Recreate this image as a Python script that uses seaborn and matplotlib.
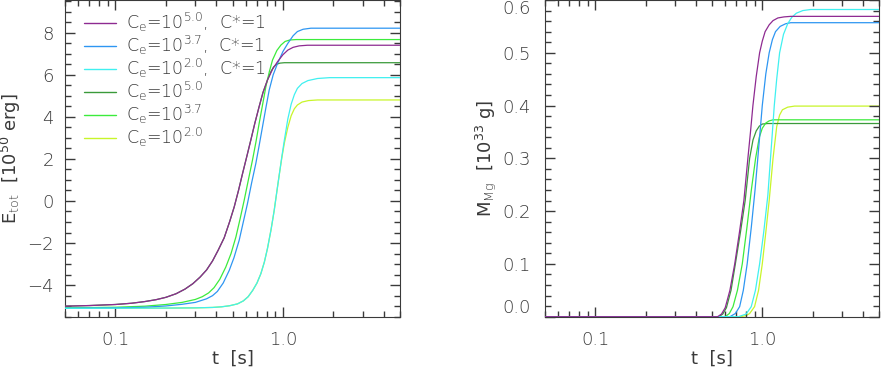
import numpy as np
import pandas as pd
import matplotlib
matplotlib.use("Agg")
import matplotlib.pyplot as plt
import matplotlib.ticker as mticker
import seaborn as sns

# Series labels and colours (legend order)
labels = [r"C$_{\rm e}$=10$^{5.0}$,  C*=1",
          r"C$_{\rm e}$=10$^{3.7}$,  C*=1",
          r"C$_{\rm e}$=10$^{2.0}$,  C*=1",
          r"C$_{\rm e}$=10$^{5.0}$",
          r"C$_{\rm e}$=10$^{3.7}$",
          r"C$_{\rm e}$=10$^{2.0}$"]
colors = ["#8E2A91", "#2E96F2", "#40F0F0", "#3A9A3A", "#3CEB3C", "#C8F52A"]
zorders = [6, 4, 5, 3, 3, 2]

# Left panel: total energy [1e50 erg] vs time [s]
t_e_purple = [0.05, 0.07, 0.1, 0.125, 0.15, 0.175, 0.2, 0.23, 0.26, 0.29, 0.32, 0.35, 0.38,
              0.41, 0.446, 0.48, 0.512, 0.543, 0.574, 0.608, 0.643, 0.68, 0.721, 0.76, 0.809,
              0.87, 0.929, 1.0, 1.07, 1.15, 1.25, 1.4, 5.0]
e_purple = [-5.0, -4.97, -4.92, -4.86, -4.78, -4.69, -4.58, -4.41, -4.19, -3.93, -3.62, -3.28, -2.85,
            -2.35, -1.75, -1.0, -0.28, 0.5, 1.30, 2.1, 2.89, 3.7, 4.48, 5.15, 5.75,
            6.28, 6.62, 6.95, 7.17, 7.3, 7.37, 7.4, 7.4]

t_e_blue = [0.05, 0.1, 0.15, 0.2, 0.25, 0.3, 0.35, 0.38, 0.406, 0.44, 0.478, 0.51, 0.548, 0.58,
            0.614, 0.65, 0.689, 0.72, 0.755, 0.79, 0.828, 0.875, 0.929, 1.0, 1.07, 1.15, 1.22,
            1.32, 1.47, 5.0]
e_blue = [-5.1, -5.08, -5.05, -4.99, -4.91, -4.82, -4.65, -4.5, -4.3, -3.9, -3.3, -2.7, -1.87, -1.0,
          -0.13, 0.85, 1.78, 2.6, 3.52, 4.4, 5.27, 6.0, 6.54, 7.1, 7.49, 7.85, 8.05,
          8.16, 8.21, 8.21]

t_e_cyan = [0.05, 0.2, 0.3, 0.38, 0.43, 0.48, 0.536, 0.58, 0.62, 0.66, 0.7, 0.738, 0.775, 0.809,
            0.85, 0.887, 0.92, 0.951, 0.985, 1.02, 1.07, 1.12, 1.17, 1.22, 1.3, 1.41, 1.61, 1.9, 5.0]
e_cyan = [-5.1, -5.09, -5.08, -5.06, -5.03, -4.98, -4.89, -4.75, -4.55, -4.25, -3.9, -3.46, -2.9, -2.25,
          -1.35, -0.45, 0.45, 1.25, 2.1, 2.89, 3.9, 4.6, 5.05, 5.35, 5.58, 5.72, 5.82, 5.86, 5.86]

t_e_dkgreen = [0.05, 0.07, 0.1, 0.125, 0.15, 0.175, 0.2, 0.23, 0.26, 0.29, 0.32, 0.35, 0.38,
               0.41, 0.446, 0.48, 0.512, 0.543, 0.574, 0.608, 0.643, 0.68, 0.721, 0.76, 0.809,
               0.847, 0.88, 0.92, 0.96, 1.02, 5.0]
e_dkgreen = [-5.0, -4.97, -4.92, -4.86, -4.78, -4.69, -4.58, -4.41, -4.19, -3.93, -3.62, -3.28, -2.85,
             -2.35, -1.75, -1.0, -0.28, 0.5, 1.30, 2.1, 2.89, 3.7, 4.48, 5.15, 5.75,
             6.14, 6.37, 6.5, 6.55, 6.57, 6.57]

t_e_green = [0.05, 0.1, 0.15, 0.2, 0.25, 0.3, 0.33, 0.36, 0.388, 0.42, 0.456, 0.49, 0.524, 0.555,
             0.587, 0.62, 0.658, 0.69, 0.721, 0.755, 0.791, 0.83, 0.867, 0.92, 0.973, 1.03, 1.1,
             1.2, 5.0]
e_green = [-5.08, -5.05, -5.0, -4.92, -4.82, -4.68, -4.55, -4.37, -4.12, -3.72, -3.14, -2.5, -1.71, -0.85,
           0.03, 0.95, 1.94, 2.8, 3.68, 4.55, 5.43, 6.15, 6.70, 7.15, 7.41, 7.58, 7.65,
           7.67, 7.67]

t_e_yellow = [0.05, 0.2, 0.3, 0.38, 0.43, 0.48, 0.536, 0.58, 0.62, 0.66, 0.7, 0.738, 0.775, 0.809,
              0.85, 0.887, 0.92, 0.951, 0.985, 1.02, 1.07, 1.12, 1.17, 1.22, 1.3, 1.42, 1.61, 5.0]
e_yellow = [-5.1, -5.09, -5.08, -5.06, -5.03, -4.98, -4.89, -4.75, -4.55, -4.25, -3.9, -3.46, -2.9, -2.25,
            -1.35, -0.45, 0.45, 1.25, 2.05, 2.75, 3.5, 4.05, 4.38, 4.56, 4.7, 4.77, 4.8, 4.8]

# Right panel: Mg mass [1e33 g] vs time [s]
t_m_purple = [0.05, 0.54, 0.57, 0.6, 0.64, 0.684, 0.73, 0.776, 0.82, 0.85, 0.879, 0.92, 0.964,
              1.0, 1.04, 1.1, 1.16, 1.24, 1.35, 1.48, 5.0]
m_purple = [0.0, 0.0, 0.005, 0.017, 0.05, 0.1, 0.16, 0.22, 0.3, 0.35, 0.4, 0.455, 0.5,
            0.522, 0.54, 0.553, 0.561, 0.566, 0.568, 0.569, 0.569]

t_m_blue = [0.05, 0.64, 0.69, 0.732, 0.77, 0.812, 0.86, 0.905, 0.94, 0.97, 1.0, 1.05, 1.1, 1.15,
            1.2, 1.28, 1.38, 1.48, 5.0]
m_blue = [0.0, 0.0, 0.006, 0.019, 0.05, 0.1, 0.17, 0.24, 0.3, 0.35, 0.4, 0.46, 0.5, 0.525,
          0.54, 0.55, 0.555, 0.557, 0.557]

t_m_cyan = [0.05, 0.72, 0.8, 0.859, 0.91, 0.964, 1.02, 1.08, 1.12, 1.15, 1.18, 1.22, 1.27, 1.34,
            1.42, 1.5, 1.6, 1.75, 1.95, 5.0]
m_cyan = [0.0, 0.0, 0.005, 0.019, 0.05, 0.1, 0.16, 0.23, 0.3, 0.35, 0.4, 0.45, 0.5, 0.535,
          0.555, 0.567, 0.575, 0.58, 0.582, 0.582]

t_m_dkgreen = [0.05, 0.55, 0.58, 0.61, 0.65, 0.69, 0.74, 0.79, 0.84, 0.88, 0.92, 0.96, 1.0, 1.08, 5.0]
m_dkgreen = [0.0, 0.0, 0.005, 0.017, 0.05, 0.1, 0.16, 0.22, 0.3, 0.335, 0.352, 0.361, 0.365, 0.366, 0.366]

t_m_green = [0.05, 0.6, 0.635, 0.668, 0.71, 0.759, 0.81, 0.86, 0.912, 0.96, 1.0, 1.05, 1.1, 1.16, 5.0]
m_green = [0.0, 0.0, 0.006, 0.019, 0.05, 0.1, 0.17, 0.24, 0.3, 0.34, 0.357, 0.367, 0.371, 0.373, 0.373]

t_m_yellow = [0.05, 0.74, 0.8, 0.84, 0.899, 0.95, 1.0, 1.05, 1.1, 1.16, 1.22, 1.27, 1.32, 1.42,
              1.56, 5.0]
m_yellow = [0.0, 0.0, 0.002, 0.006, 0.019, 0.05, 0.1, 0.16, 0.22, 0.3, 0.36, 0.382, 0.392, 0.397,
            0.399, 0.399]

x_ticks = [0.1, 1.0]
x_ticklabels = ["0.1", "1.0"]
e_ticks = [-4, -2, 0, 2, 4, 6, 8]
m_ticks = [0.0, 0.1, 0.2, 0.3, 0.4, 0.5, 0.6]

energy_series = [(t_e_purple, e_purple), (t_e_blue, e_blue), (t_e_cyan, e_cyan),
                 (t_e_dkgreen, e_dkgreen), (t_e_green, e_green), (t_e_yellow, e_yellow)]
mass_series = [(t_m_purple, m_purple), (t_m_blue, m_blue), (t_m_cyan, m_cyan),
               (t_m_dkgreen, m_dkgreen), (t_m_green, m_green), (t_m_yellow, m_yellow)]

# Style
sns.set_style("ticks")
ink = "#3a3a3a"
plt.rcParams.update({
    "font.family": ["DejaVu Sans"],
    "font.weight": 200,
    "mathtext.default": "regular",
    "font.size": 13,
    "text.color": ink,
    "axes.edgecolor": ink,
    "axes.labelcolor": ink,
    "axes.linewidth": 0.8,
    "axes.axisbelow": False,
    "xtick.direction": "in",
    "ytick.direction": "in",
    "xtick.color": ink,
    "ytick.color": ink,
    "xtick.major.size": 7.5,
    "ytick.major.size": 7.5,
    "xtick.minor.size": 4,
    "ytick.minor.size": 4,
    "xtick.major.width": 1.0,
    "ytick.major.width": 1.0,
    "xtick.minor.width": 1.0,
    "ytick.minor.width": 1.0,
})

fig = plt.figure(figsize=(8.81, 3.73), dpi=100)
ax1 = fig.add_axes([65 / 881, 56.3 / 373, 335 / 881, 316.7 / 373])
ax2 = fig.add_axes([545 / 881, 56.3 / 373, 334 / 881, 316.7 / 373])


def draw_series(ax, series, with_labels):
    for (tt, yy), col, lab, z in zip(series, colors, labels, zorders):
        df = pd.DataFrame({"t": tt, "y": yy})
        sns.lineplot(data=df, x="t", y="y", ax=ax, color=col, lw=0.9,
                     estimator=None, sort=False, zorder=z,
                     label=lab if with_labels else None, legend=False)


def style_axis(ax):
    ax.set_xscale("log")
    ax.set_xlim(0.05, 5.0)
    ax.xaxis.set_major_locator(mticker.FixedLocator(x_ticks))
    ax.xaxis.set_major_formatter(mticker.FixedFormatter(x_ticklabels))
    ax.xaxis.set_minor_locator(mticker.LogLocator(base=10, subs=np.arange(2, 10)))
    ax.xaxis.set_minor_formatter(mticker.NullFormatter())
    ax.tick_params(which="both", direction="in", top=True, right=True, bottom=True, left=True,
                   labelsize=13, labelcolor=ink)
    ax.tick_params(axis="x", which="major", pad=10)
    ax.set_xlabel("t  [s]", labelpad=1)
    ax.set_axisbelow(False)
    for sp in ax.spines.values():
        sp.set_visible(True)
        sp.set_color(ink)


draw_series(ax1, energy_series, True)
style_axis(ax1)
ax1.set_ylim(-5.5, 9.55)
ax1.yaxis.set_major_locator(mticker.FixedLocator(e_ticks))
ax1.yaxis.set_major_formatter(mticker.FuncFormatter(lambda v, p: f"{v:.0f}".replace("-", "\u2212")))
ax1.yaxis.set_minor_locator(mticker.MultipleLocator(0.5))
ax1.tick_params(axis="y", which="major", pad=8)
ax1.set_ylabel(r"E$_{\rm tot}$  [10$^{50}$ erg]")
ax1.yaxis.set_label_coords(-0.125, 0.5)

leg = ax1.legend(loc="upper left", bbox_to_anchor=(0.057, 0.966), frameon=False,
                 borderpad=0, borderaxespad=0, handlelength=1.85, handletextpad=0.57,
                 labelspacing=0.0, fontsize=12.5)
for line in leg.get_lines():
    line.set_linewidth(1.0)

draw_series(ax2, mass_series, False)
style_axis(ax2)
ax2.set_ylim(0.0, 0.6)
ax2.yaxis.set_major_locator(mticker.FixedLocator(m_ticks))
ax2.yaxis.set_major_formatter(mticker.FuncFormatter(lambda v, p: f"{v:.1f}"))
ax2.yaxis.set_minor_locator(mticker.MultipleLocator(0.02))
ax2.tick_params(axis="y", which="major", pad=10)
ax2.set_ylabel(r"M$_{\rm Mg}$  [10$^{33}$ g]")
ax2.yaxis.set_label_coords(-0.141, 0.5)

# keep edge labels inside the figure, like the original
ylabels = ax2.get_yticklabels()
ylabels[-1].set_va("top")
ylabels[0].set_va("bottom")

fig.savefig("out.png", dpi=100)
